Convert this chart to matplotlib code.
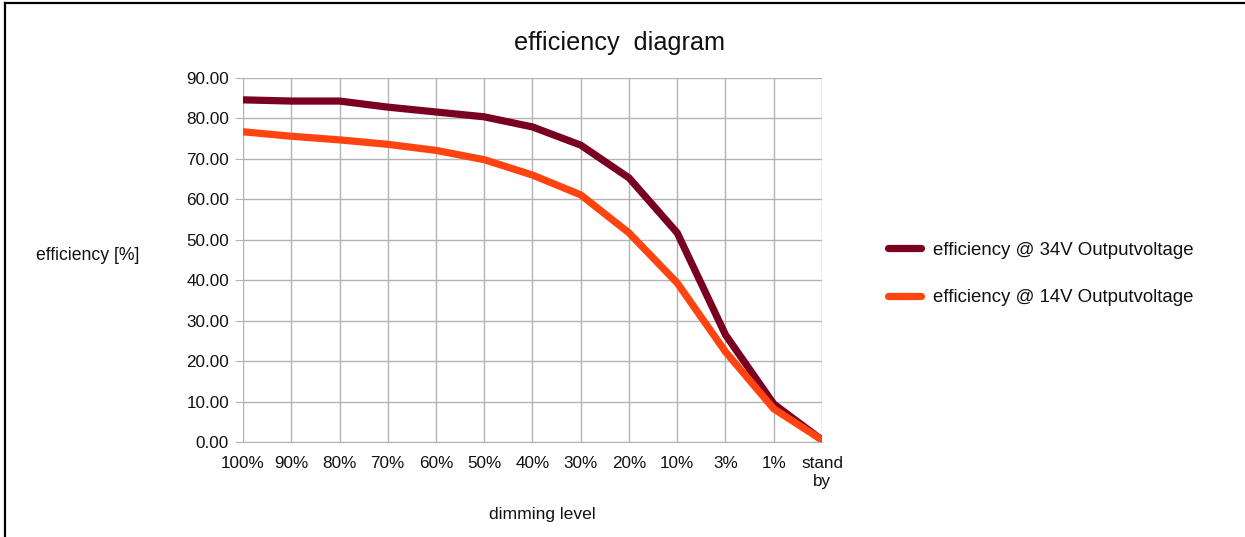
import matplotlib
matplotlib.use("Agg")
import matplotlib.pyplot as plt
from matplotlib.lines import Line2D

plt.rcParams['font.family'] = ['Liberation Sans', 'DejaVu Sans']

categories = ["100%", "90%", "80%", "70%", "60%", "50%", "40%", "30%", "20%", "10%", "3%", "1%", "stand\nby"]
eff_34v = [84.6, 84.3, 84.3, 82.8, 81.6, 80.4, 77.9, 73.4, 65.3, 51.7, 26.5, 9.4, 0.5]
eff_14v = [76.7, 75.6, 74.7, 73.6, 72.1, 69.8, 66.0, 61.1, 51.7, 39.3, 22.3, 8.2, 0.5]
yticks = [0, 10, 20, 30, 40, 50, 60, 70, 80, 90]

W, H = 1245, 537
fig = plt.figure(figsize=(W/100, H/100), dpi=100)
ax = fig.add_axes([243/W, 1-442/H, (822-243)/W, (442-78)/H])

x = list(range(len(categories)))
ax.plot(x, eff_34v, color='#7A0022', lw=5.2, solid_joinstyle='miter', label='efficiency @ 34V Outputvoltage', zorder=3)
ax.plot(x, eff_14v, color='#FF4411', lw=5.2, solid_joinstyle='miter', label='efficiency @ 14V Outputvoltage', zorder=3)

fs = 12.3
ax.set_xlim(0, len(categories)-1)
ax.set_ylim(0, 90)
ax.set_yticks(yticks)
ax.set_yticklabels([f"{v:.2f}" for v in yticks], fontsize=fs, color='#111111')
ax.set_xticks(x)
ax.set_xticklabels(categories, fontsize=fs, color='#111111', va='top', linespacing=1.3)
ax.tick_params(axis='y', length=6, color='#b3b3b3', pad=4, direction='out')
ax.tick_params(axis='x', length=0, pad=10)
ax.grid(True, color='#b3b3b3', lw=1)
for s in ['top', 'right', 'left']:
    ax.spines[s].set_visible(False)
ax.spines['bottom'].set_color('#b3b3b3')
ax.set_axisbelow(True)

fig.text(620/W, 1-43/H, "efficiency  diagram", ha='center', va='center', fontsize=18.2, color='#111111')
fig.text(88/W, 1-256/H, "efficiency [%]", ha='center', va='center', fontsize=12.7, color='#111111')
fig.text(542/W, 1-514/H, "dimming level", ha='center', va='center', fontsize=12.6, color='#111111')

leg = fig.legend(loc='center left', bbox_to_anchor=(871/W, 1-274/H), frameon=False,
                 fontsize=13.4, handlelength=1.8, handletextpad=0.65, labelspacing=1.65,
                 labelcolor='#111111')
for h in leg.get_lines():
    h.set_solid_capstyle('round')

fig.add_artist(Line2D([5.5/W, 5.5/W], [0, 1-2.5/H], color='black', lw=1.6, transform=fig.transFigure))
fig.add_artist(Line2D([5.5/W, 1], [1-2.5/H, 1-2.5/H], color='black', lw=1.6, transform=fig.transFigure))

fig.savefig("out.png", dpi=100)
